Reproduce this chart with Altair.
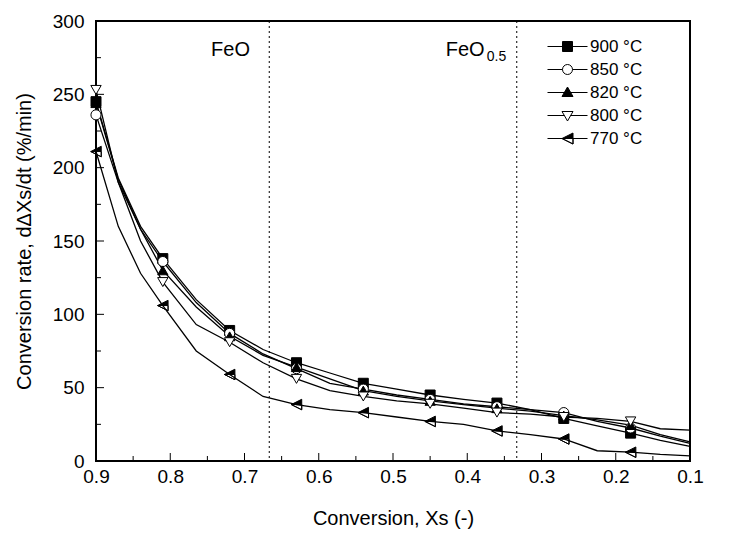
import altair as alt
import pandas as pd

SERIES = ["900 °C", "850 °C", "820 °C", "800 °C", "770 °C"]

# marker positions (conversion) and values (conversion rate, %/min)
X_MARK = [0.9, 0.81, 0.72, 0.63, 0.54, 0.45, 0.36, 0.27, 0.18]
Y_MARK_900 = [245, 138, 89, 67, 53, 45, 39.5, 29, 19]
Y_MARK_850 = [236, 136, 87, 63, 49, 42, 37, 33, 22.5]
Y_MARK_820 = [244, 130, 85, 64, 48, 41, 36, 31, 24.5]
Y_MARK_800 = [253, 122, 81, 56, 44, 39, 33, 30, 27]
Y_MARK_770 = [211, 106, 59, 38.5, 33, 27, 20.5, 15, 6]

# polyline vertices of each curve
X_LINE = [0.9, 0.87, 0.84, 0.81, 0.765, 0.72, 0.675, 0.63, 0.585, 0.54,
          0.495, 0.45, 0.405, 0.36, 0.315, 0.27, 0.225, 0.18, 0.14, 0.1]
Y_LINE_900 = [245, 193, 160, 138, 110, 89, 76, 67, 60, 53, 49, 45, 42, 39.5, 35, 29, 24, 19, 14, 10]
Y_LINE_850 = [236, 190, 158, 136, 108, 87, 73, 63, 53, 49, 45, 42, 39, 37, 35, 33, 27, 22.5, 17, 12]
Y_LINE_820 = [244, 192, 158, 130, 105, 85, 72, 64, 56, 48, 44, 41, 38.5, 36, 34, 31, 28, 24.5, 18, 13]
Y_LINE_800 = [253, 190, 150, 122, 93, 81, 67, 56, 48, 44, 41, 39, 36, 33, 32, 30, 29, 27, 22, 21]
Y_LINE_770 = [211, 160, 128, 106, 75, 59, 44, 38.5, 35, 33, 30, 27, 25, 20.5, 18, 15, 7, 6, 4.5, 3.5]

PHASE_X = [2 / 3, 1 / 3]
PHASE_LABEL_X = [0.745, 0.429]
PHASE_LABEL_Y = [280, 280]
PHASE_LABEL = ["FeO", "FeO"]
SUB_LABEL = ["", "0.5"]

X_MAJOR = [0.9, 0.8, 0.7, 0.6, 0.5, 0.4, 0.3, 0.2, 0.1]
X_MINOR = [0.85, 0.75, 0.65, 0.55, 0.45, 0.35, 0.25, 0.15]
Y_MAJOR = [0, 50, 100, 150, 200, 250, 300]
Y_MINOR = [25, 75, 125, 175, 225, 275]

W, H = 594, 440
FONT = "Liberation Sans"

line_vals = [Y_LINE_900, Y_LINE_850, Y_LINE_820, Y_LINE_800, Y_LINE_770]
mark_vals = [Y_MARK_900, Y_MARK_850, Y_MARK_820, Y_MARK_800, Y_MARK_770]
df_line = pd.DataFrame([
    {"series": s, "x": x, "y": y, "i": i}
    for s, ys in zip(SERIES, line_vals) for i, (x, y) in enumerate(zip(X_LINE, ys))
])
df_mark = pd.DataFrame([
    {"series": s, "x": x, "y": y}
    for s, ys in zip(SERIES, mark_vals) for x, y in zip(X_MARK, ys)
])
df_phase = pd.DataFrame({"x": PHASE_X})
df_lab = pd.DataFrame({"x": PHASE_LABEL_X, "y": PHASE_LABEL_Y, "t": PHASE_LABEL, "s": SUB_LABEL})
df_xmaj = pd.DataFrame({"x": X_MAJOR})
df_xmin = pd.DataFrame({"x": X_MINOR})
df_ymaj = pd.DataFrame({"y": Y_MAJOR})
df_ymin = pd.DataFrame({"y": Y_MINOR})

xscale = alt.Scale(domain=[0.9, 0.1], nice=False, zero=False, padding=0)
yscale = alt.Scale(domain=[0, 300], nice=False, padding=0)
xaxis = alt.Axis(values=X_MAJOR, format=".1f", ticks=False, domain=False, grid=False,
                 labelFlush=False, labelPadding=6, title="Conversion, Xs (-)", titlePadding=22)
yaxis = alt.Axis(values=Y_MAJOR, ticks=False, domain=False, grid=False, labelPadding=12,
                 labelFlush=False, title="Conversion rate, dΔXs/dt (%/min)", titlePadding=18)


def X():
    return alt.X("x:Q", scale=xscale, axis=xaxis)


def Y():
    return alt.Y("y:Q", scale=yscale, axis=yaxis)


MARK_SHAPES = ["square", "circle", "triangle-up", "triangle-down",
               "M-1,0L1,-1L1,0ZM-1,0L1,1L1,0L1,1Z"]
LEGEND_SHAPES = [
    "M-4,0L-1,0M1,0L4,0M-1,-1L1,-1L1,1L-1,1Z",
    "M-4,0L-1,0M1,0L4,0M-1,0A1,1,0,1,1,1,0A1,1,0,1,1,-1,0Z",
    "M-4,0L4,0M0,-1.1L1.1,0.8L-1.1,0.8Z",
    "M-4,0L-0.6,0M0.6,0L4,0M-1.1,-0.8L1.1,-0.8L0,1.1Z",
    "M-4,0L-1.1,0M1.1,0L4,0M-1.1,0L1.1,-1.1L1.1,0ZM-1.1,0L1.1,1.1L1.1,0L1.1,1.1Z",
]
FILLS = ["black", "white", "black", "white", "black"]
STROKES = ["black"] * 5
SIZES = [100, 110, 140, 140, 150]

phase = alt.Chart(df_phase).mark_rule(color="black", strokeWidth=1, strokeDash=[2, 3]).encode(x=X())

lines = alt.Chart(df_line).mark_line(color="black", strokeWidth=1.3).encode(
    x=X(), y=Y(), detail="series:N", order="i:Q")

points = alt.Chart(df_mark).mark_point(filled=True, stroke="black", strokeWidth=1, opacity=1).encode(
    x=X(), y=Y(),
    shape=alt.Shape("series:N", scale=alt.Scale(domain=SERIES, range=MARK_SHAPES), legend=None),
    fill=alt.Fill("series:N", scale=alt.Scale(domain=SERIES, range=FILLS), legend=None),
    size=alt.Size("series:N", scale=alt.Scale(domain=SERIES, range=SIZES), legend=None),
)

leg = alt.Legend(title=None, orient="none", legendX=463, legendY=17, symbolSize=100,
                 symbolStrokeWidth=1, symbolStrokeColor="black", symbolOpacity=1,
                 labelFont=FONT, labelFontSize=17, labelColor="black", labelOffset=14,
                 rowPadding=5, padding=0)
legend_layer = alt.Chart(df_mark).transform_filter("false").mark_point(
    filled=False, strokeWidth=1, opacity=1).encode(
    x=X(), y=Y(),
    shape=alt.Shape("series:N", scale=alt.Scale(domain=SERIES, range=LEGEND_SHAPES), legend=leg),
    fill=alt.Fill("series:N", scale=alt.Scale(domain=SERIES, range=FILLS), legend=leg),
    stroke=alt.Stroke("series:N", scale=alt.Scale(domain=SERIES, range=STROKES), legend=leg),
)

labels = alt.Chart(df_lab).mark_text(align="left", baseline="middle", font=FONT, fontSize=20,
                                     color="black").encode(x=X(), y=Y(), text="t:N")
sublabels = alt.Chart(df_lab).mark_text(align="left", baseline="middle", font=FONT, fontSize=14,
                                        color="black", dx=41, dy=7).encode(x=X(), y=Y(), text="s:N")

xmaj = alt.Chart(df_xmaj).mark_rule(color="black", strokeWidth=1).encode(
    x=X(), y=alt.value(H - 8), y2=alt.value(H))
xmin = alt.Chart(df_xmin).mark_rule(color="black", strokeWidth=1).encode(
    x=X(), y=alt.value(H - 5), y2=alt.value(H))
ymaj = alt.Chart(df_ymaj).mark_rule(color="black", strokeWidth=1).encode(
    y=Y(), x=alt.value(0), x2=alt.value(8))
ymin = alt.Chart(df_ymin).mark_rule(color="black", strokeWidth=1).encode(
    y=Y(), x=alt.value(0), x2=alt.value(5))

chart = alt.layer(phase, xmaj, xmin, ymaj, ymin, lines, points, legend_layer, labels, sublabels).resolve_scale(
    shape="independent", fill="independent", stroke="independent"
).properties(
    width=W, height=H,
    autosize=alt.AutoSizeParams(type="none"),
    padding={"left": 88, "top": 13, "right": 40, "bottom": 70},
).configure_view(
    stroke="black", strokeWidth=2
).configure_axis(
    labelFont=FONT, labelFontSize=19, labelColor="black",
    titleFont=FONT, titleFontSize=20, titleFontWeight="normal", titleColor="black",
)

chart.save("out.html", embed_options={"renderer": "svg", "actions": False})
